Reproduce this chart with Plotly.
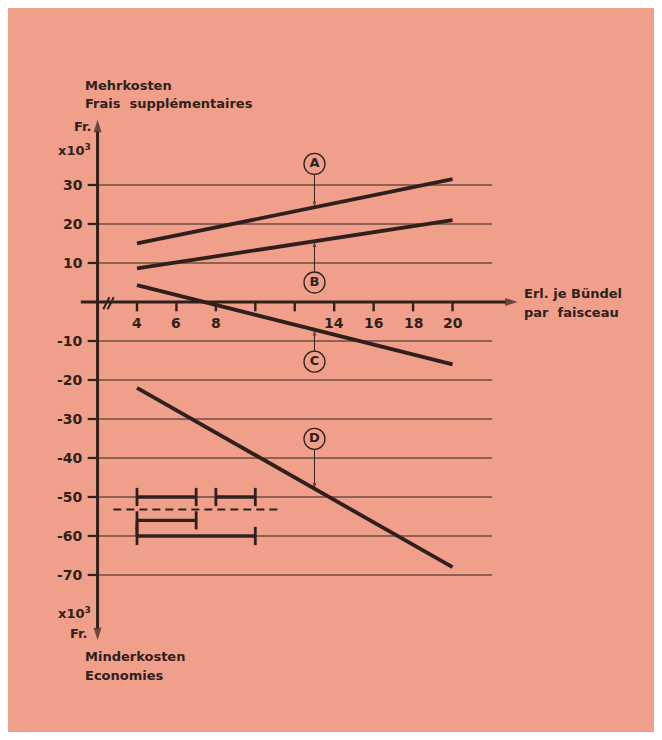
import plotly.graph_objects as go

# ---------------- data ----------------
line_x = [4, 20]
line_A = [15.0, 31.5]
line_B = [8.6, 21.0]
line_C = [4.3, -16.0]
line_D = [-22.0, -68.0]

label_names = ["A", "B", "C", "D"]
label_x = [13, 13, 13, 13]
label_y = [35.4, 5.0, -15.3, -35.1]

y_ticks = [30, 20, 10, -10, -20, -30, -40, -50, -60, -70]
y_tick_labels = ["30", "20", "10", "-10", "-20", "-30", "-40", "-50", "-60", "-70"]
x_ticks = [4, 6, 8, 10, 12, 14, 16, 18, 20]
x_tick_labels = ["4", "6", "8", "", "", "14", "16", "18", "20"]

bar_y = [-50, -50, -56, -60]
bar_start = [4, 8, 4, 4]
bar_end = [7, 10, 7, 10]
dash_y = -53.2
dash_start = 2.8
dash_end = 11.3

# ---------------- style ----------------
BG = "#F0A08A"
INK = "#30201d"
FONT = "DejaVu Sans"
AX_X = 2.0          # x position of the vertical axis
GRID_END = 22.0
W, H = 646, 724
PX_X, PX_Y = 19.72, 3.9
X0 = -2.541
Y1 = 75.38

fig = go.Figure()


def seg(xs, ys, width, **kw):
    fig.add_trace(go.Scatter(x=xs, y=ys, mode="lines", line=dict(color=INK, width=width, **kw),
                             hoverinfo="skip", showlegend=False))


def arrow(x0, y0, x1, y1, width, head):
    fig.add_trace(go.Scatter(x=[x0, x1], y=[y0, y1], mode="lines+markers",
                             line=dict(color=INK, width=width),
                             marker=dict(symbol="arrow", size=[0, head], angleref="previous",
                                         color=INK, line=dict(width=0)),
                             hoverinfo="skip", showlegend=False, cliponaxis=False))


# gridlines
gx, gy = [], []
for v in y_ticks:
    gx += [AX_X, GRID_END, None]
    gy += [v, v, None]
seg(gx, gy, 1.2)
# y tick marks
tx, ty = [], []
for v in y_ticks:
    tx += [AX_X - 0.5, AX_X, None]
    ty += [v, v, None]
seg(tx, ty, 2.2)
# x tick marks
xx, xy = [], []
for v in x_ticks:
    xx += [v, v, None]
    xy += [0, -2.4, None]
seg(xx, xy, 2.4)

# axes with arrows
arrow(1.15, 0, 23.3, 0, 3, 13)
arrow(AX_X, -20, AX_X, 46.7, 3, 13)
arrow(AX_X, -20, AX_X, -86.7, 3, 13)

# main lines
for ys in (line_A, line_B, line_C, line_D):
    seg(line_x, ys, 3.8)

# range bars
bx, by = [], []
for y0, s, e in zip(bar_y, bar_start, bar_end):
    bx += [s, e, None]
    by += [y0, y0, None]
seg(bx, by, 3.4)
cx, cy = [], []
for y0, s, e in zip(bar_y, bar_start, bar_end):
    cx += [s, e]
    cy += [y0, y0]
fig.add_trace(go.Scatter(x=cx, y=cy, mode="markers",
                         marker=dict(symbol="line-ns", size=13,
                                     line=dict(color=INK, width=2.8)),
                         hoverinfo="skip", showlegend=False))
# connector of the two lower bars at their common start
seg([bar_start[2], bar_start[3]], [bar_y[2], bar_y[3]], 2.8)
# dashed line
seg([dash_start, dash_end], [dash_y, dash_y], 2, dash="8px,5px")

# arrows from circles to lines
lines = [line_A, line_B, line_C, line_D]
R = 2.75  # circle radius in y units
for lx, ly, ys in zip(label_x, label_y, lines):
    yl = ys[0] + (ys[1] - ys[0]) * (lx - line_x[0]) / (line_x[1] - line_x[0])
    start = ly - R if ly > yl else ly + R
    arrow(lx, start, lx, yl, 1, 6)

# circled letters
fig.add_trace(go.Scatter(x=label_x, y=label_y, mode="markers+text",
                         text=label_names, textposition="middle center",
                         textfont=dict(family=FONT, size=13, color=INK, weight="bold"),
                         marker=dict(symbol="circle", size=21, color=BG,
                                     line=dict(color=INK, width=1.3)),
                         hoverinfo="skip", showlegend=False))

annotations = []
tf = dict(family=FONT, size=14, color=INK, weight="bold")
for v, t in zip(y_ticks, y_tick_labels):
    annotations.append(dict(x=1.36, y=v, text=t, xref="x", yref="y", showarrow=False,
                            xanchor="right", yanchor="middle", font=tf))
for v, t in zip(x_ticks, x_tick_labels):
    if t:
        annotations.append(dict(x=v, y=-5.3, text=t, xref="x", yref="y", showarrow=False,
                                xanchor="center", yanchor="middle", font=tf))

lf = dict(family=FONT, size=13, color=INK, weight="bold")
texts = [
    (1.26, 55.6, "Mehrkosten", "left"),
    (1.26, 50.8, "Frais  supplémentaires", "left"),
    (1.26, -91.0, "Minderkosten", "left"),
    (1.26, -95.9, "Economies", "left"),
    (23.5, 2.3, "Erl. je Bündel", "left"),
    (23.5, -2.8, "par  faisceau", "left"),
    (1.8, 44.9, "Fr.", "right"),
    (1.75, 39.0, "x10<sup>3</sup>", "right"),
    (1.75, -79.7, "x10<sup>3</sup>", "right"),
    (1.6, -85.1, "Fr.", "right"),
]
for x, y, t, anc in texts:
    annotations.append(dict(x=x, y=y, text=t, xref="x", yref="y", showarrow=False,
                            xanchor=anc, yanchor="middle", font=lf))

shapes = [
    dict(type="line", xref="x", yref="y", x0=2.29, y0=-1.87, x1=2.60, y1=1.21,
         line=dict(color=INK, width=2)),
    dict(type="line", xref="x", yref="y", x0=2.51, y0=-1.87, x1=2.82, y1=1.21,
         line=dict(color=INK, width=2)),
]

fig.update_layout(
    width=W, height=H,
    margin=dict(l=0, r=0, t=0, b=0),
    paper_bgcolor=BG, plot_bgcolor=BG,
    xaxis=dict(range=[X0, X0 + W / PX_X], visible=False, fixedrange=True),
    yaxis=dict(range=[Y1 - H / PX_Y, Y1], visible=False, fixedrange=True),
    annotations=annotations, shapes=shapes, showlegend=False,
)

fig.write_html("out.html")
